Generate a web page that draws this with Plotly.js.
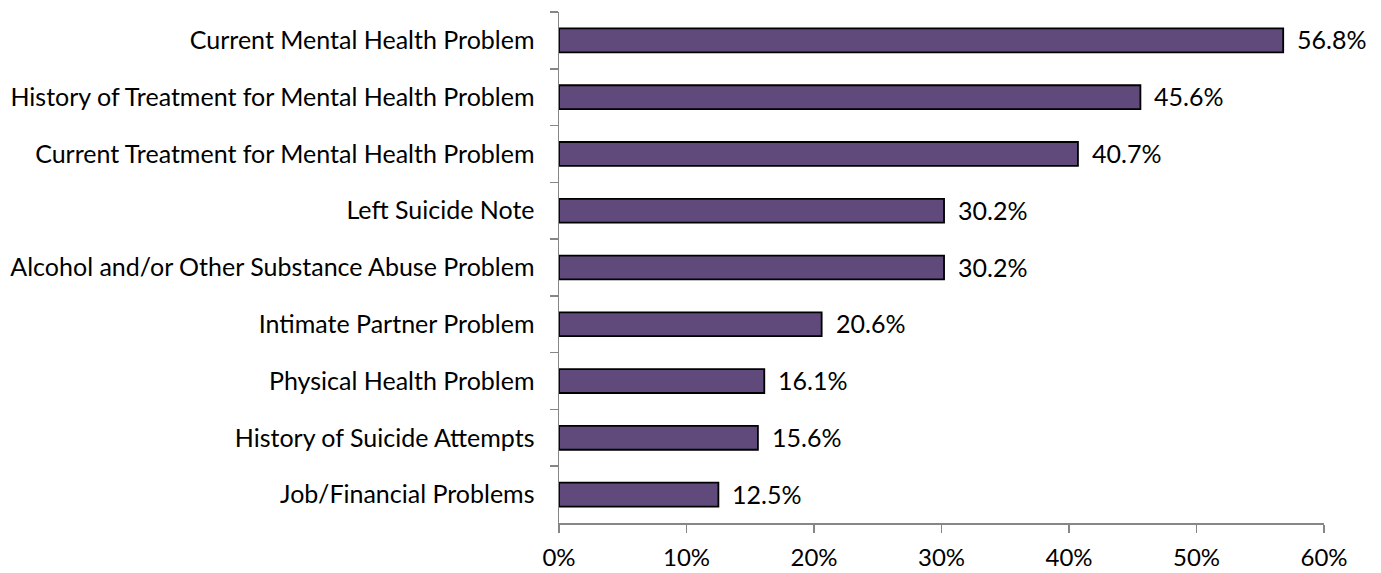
<!DOCTYPE html>
<html>
<head>
<meta charset="utf-8">
<script src="https://cdn.plot.ly/plotly-3.0.1.min.js"></script>
<style>
  html, body { margin: 0; padding: 0; background: #fff; }
  #chart { width: 1381px; height: 573px; }
</style>
</head>
<body>
<div id="chart"></div>
<script>
// Circumstances reported, percent of cases
const categories = [
  "Current Mental Health Problem",
  "History of Treatment for Mental Health Problem",
  "Current Treatment for Mental Health Problem",
  "Left Suicide Note",
  "Alcohol and/or Other Substance Abuse Problem",
  "Intimate Partner Problem",
  "Physical Health Problem",
  "History of Suicide Attempts",
  "Job/Financial Problems"
];
const values = [56.8, 45.6, 40.7, 30.2, 30.2, 20.6, 16.1, 15.6, 12.5];
const xTicks = [0, 10, 20, 30, 40, 50, 60];

const FONT = "Lato, 'Open Sans', sans-serif";
const FONT_SIZE = 25;
const AXIS_GREY = "#868686";

const bars = {
  type: "bar",
  orientation: "h",
  x: values,
  y: categories,
  marker: { color: "#604A7B", line: { color: "#000000", width: 1.8 } },
  hoverinfo: "skip"
};

// value labels placed just past the end of each bar
const labels = values.map((v, i) => ({
  x: v,
  y: categories[i],
  xref: "x",
  yref: "y",
  text: v.toFixed(1) + "%",
  showarrow: false,
  xanchor: "left",
  yanchor: "middle",
  xshift: 12,
  yshift: 1,
  font: { family: FONT, size: FONT_SIZE, color: "#000" }
}));

const layout = {
  width: 1381,
  height: 573,
  margin: { l: 559, r: 57, t: 12, b: 50 },
  paper_bgcolor: "#fff",
  plot_bgcolor: "#fff",
  showlegend: false,
  bargap: 0.58,
  xaxis: {
    range: [0, 60],
    tickvals: xTicks,
    ticktext: xTicks.map(t => t + "%"),
    showgrid: false,
    zeroline: false,
    showline: true,
    linecolor: AXIS_GREY,
    linewidth: 1.5,
    ticks: "outside",
    ticklen: 8,
    tickcolor: AXIS_GREY,
    tickwidth: 1.5,
    ticklabelstandoff: 5,
    tickfont: { family: FONT, size: 24, color: "#000" },
    fixedrange: true
  },
  yaxis: {
    autorange: "reversed",
    showgrid: false,
    zeroline: false,
    showline: true,
    linecolor: AXIS_GREY,
    linewidth: 1.5,
    ticks: "outside",
    tickson: "boundaries",
    ticklen: 8,
    tickcolor: AXIS_GREY,
    tickwidth: 1.5,
    ticklabelstandoff: 18,
    tickfont: { family: FONT, size: FONT_SIZE, color: "#000" },
    fixedrange: true
  },
  annotations: labels
};

Plotly.newPlot("chart", [bars], layout, { displayModeBar: false, staticPlot: true });
</script>
</body>
</html>
